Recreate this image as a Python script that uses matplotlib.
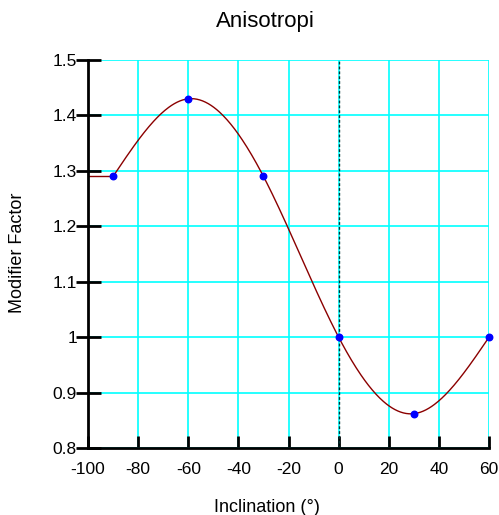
import numpy as np
import matplotlib.pyplot as plt

plt.rcParams['font.family'] = ['Liberation Sans', 'DejaVu Sans']

# data points
inclination = [-90, -60, -30, 0, 30, 60]
factor = [1.29, 1.43, 1.29, 1.0, 0.862, 1.0]

x_ticks = [-100, -80, -60, -40, -20, 0, 20, 40, 60]
y_ticks = [0.8, 0.9, 1.0, 1.1, 1.2, 1.3, 1.4, 1.5]


def natural_spline(xs, ys, xnew):
    # natural cubic spline through the points
    xs = np.asarray(xs, float)
    ys = np.asarray(ys, float)
    n = len(xs)
    h = np.diff(xs)
    A = np.zeros((n, n))
    b = np.zeros(n)
    A[0, 0] = 1
    A[-1, -1] = 1
    for i in range(1, n - 1):
        A[i, i - 1] = h[i - 1]
        A[i, i] = 2 * (h[i - 1] + h[i])
        A[i, i + 1] = h[i]
        b[i] = 3 * ((ys[i + 1] - ys[i]) / h[i] - (ys[i] - ys[i - 1]) / h[i - 1])
    c = np.linalg.solve(A, b)
    out = np.empty_like(xnew)
    for k, xv in enumerate(xnew):
        i = min(max(np.searchsorted(xs, xv) - 1, 0), n - 2)
        bi = (ys[i + 1] - ys[i]) / h[i] - h[i] * (2 * c[i] + c[i + 1]) / 3
        di = (c[i + 1] - c[i]) / (3 * h[i])
        dx = xv - xs[i]
        out[k] = ys[i] + bi * dx + c[i] * dx ** 2 + di * dx ** 3
    return out


fig = plt.figure(figsize=(4.99, 5.15), dpi=100)
ax = fig.add_axes([0.1764, 0.130, 0.8036, 0.7535])

ax.set_xlim(-100, 60)
ax.set_ylim(0.8, 1.5)

ax.grid(True, color='#00FFFF', linewidth=1.2)
ax.set_axisbelow(True)

xs = np.linspace(inclination[0], inclination[-1], 400)
ax.plot(xs, natural_spline(inclination, factor, xs), color='#8B0000', linewidth=1)
ax.plot([-100, inclination[0]], [factor[0], factor[0]], color='#8B0000', linewidth=1)
ax.axvline(0, color='#003333', linewidth=1, linestyle=(0, (2, 1.5)))
ax.scatter(inclination, factor, s=22, color='#0000FF', zorder=5, clip_on=False)

ax.set_xticks(x_ticks)
ax.set_yticks(y_ticks)
ax.set_xticklabels([str(v) for v in x_ticks])
ax.set_yticklabels(['%g' % v for v in y_ticks])
ax.tick_params(axis='x', direction='in', length=9, width=2, labelsize=12.5, pad=10)
ax.tick_params(axis='y', direction='inout', length=18, width=2, labelsize=12.5, pad=-1)

for s in ['top', 'right']:
    ax.spines[s].set_visible(False)
ax.spines['left'].set_linewidth(2)
ax.spines['bottom'].set_linewidth(2)

fig.text(265 / 499, 1 - 22 / 515, 'Anisotropi', fontsize=16, ha='center', va='center')
fig.text(267 / 499, 1 - 507 / 515, 'Inclination (°)', fontsize=13, ha='center', va='center')
fig.text(18 / 499, 1 - 253 / 515, 'Modifier Factor', fontsize=13, ha='center', va='center',
         rotation=90)

fig.savefig('out.png', dpi=100)
